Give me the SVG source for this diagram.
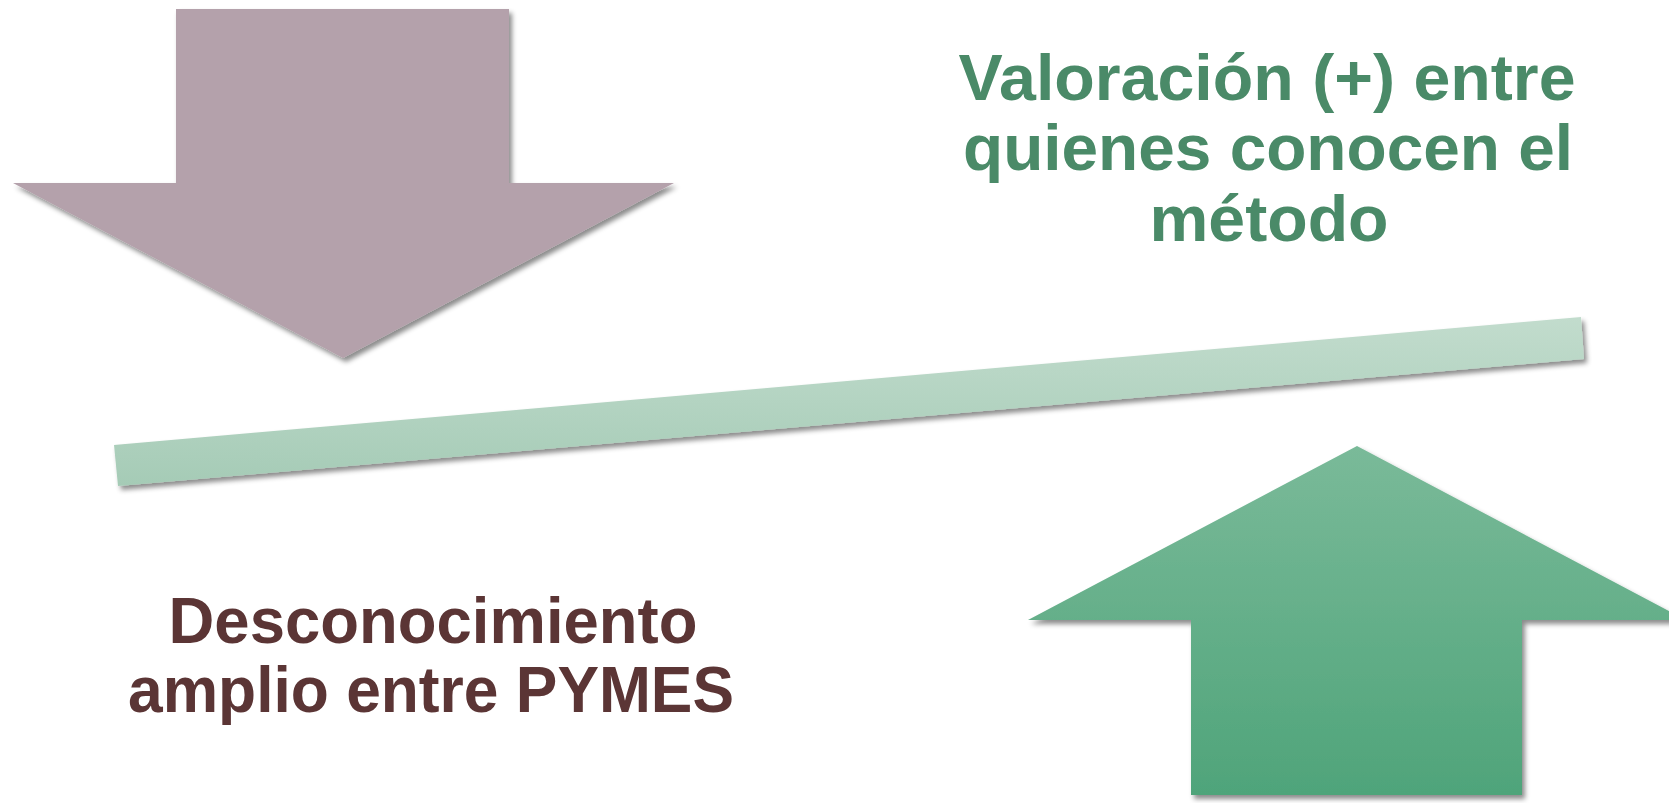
<svg xmlns="http://www.w3.org/2000/svg" width="1669" height="803" viewBox="0 0 1669 803">
  <defs>
    <filter id="shadow" x="-10%" y="-10%" width="120%" height="130%">
      <feDropShadow dx="3" dy="4" stdDeviation="2.5" flood-color="#000" flood-opacity="0.45"/>
    </filter>
    <linearGradient id="barGrad" x1="0" y1="317" x2="0" y2="486" gradientUnits="userSpaceOnUse">
      <stop offset="0" stop-color="#c2dccd"/>
      <stop offset="1" stop-color="#a5cbb6"/>
    </linearGradient>
    <linearGradient id="upGrad" x1="0" y1="446" x2="0" y2="795" gradientUnits="userSpaceOnUse">
      <stop offset="0" stop-color="#7aba99"/>
      <stop offset="1" stop-color="#4fa47a"/>
    </linearGradient>
    <style>
      .green { font-family: "Liberation Sans", Arial, sans-serif; font-weight: bold; font-size: 64px; fill: #4a8a68; }
      .brown { font-family: "Liberation Sans", Arial, sans-serif; font-weight: bold; font-size: 64px; fill: #5b3535; }
    </style>
  </defs>

  <g id="down-arrow" filter="url(#shadow)">
    <polygon points="176,9 509,9 509,183 674,183 343,358 13,183 176,183" fill="#b4a1ab"/>
  </g>

  <g id="balance-bar" filter="url(#shadow)">
    <polygon points="114,445 1581,317 1584,359 118,486" fill="url(#barGrad)"/>
  </g>

  <g id="up-arrow" filter="url(#shadow)">
    <polygon points="1357,446 1686,620 1522,620 1522,795 1191,795 1191,620 1028,620" fill="url(#upGrad)"/>
  </g>

  <g id="label-valoracion">
    <text class="green" x="1267" y="100" text-anchor="middle" textLength="617" lengthAdjust="spacingAndGlyphs">Valoración (+) entre</text>
    <text class="green" x="1268" y="170" text-anchor="middle" textLength="610" lengthAdjust="spacingAndGlyphs">quienes conocen el</text>
    <text class="green" x="1269" y="241" text-anchor="middle" textLength="239" lengthAdjust="spacingAndGlyphs">método</text>
  </g>

  <g id="label-desconocimiento">
    <text class="brown" x="433" y="643" text-anchor="middle" textLength="529" lengthAdjust="spacingAndGlyphs">Desconocimiento</text>
    <text class="brown" x="431" y="712" text-anchor="middle" textLength="606" lengthAdjust="spacingAndGlyphs">amplio entre PYMES</text>
  </g>
</svg>
